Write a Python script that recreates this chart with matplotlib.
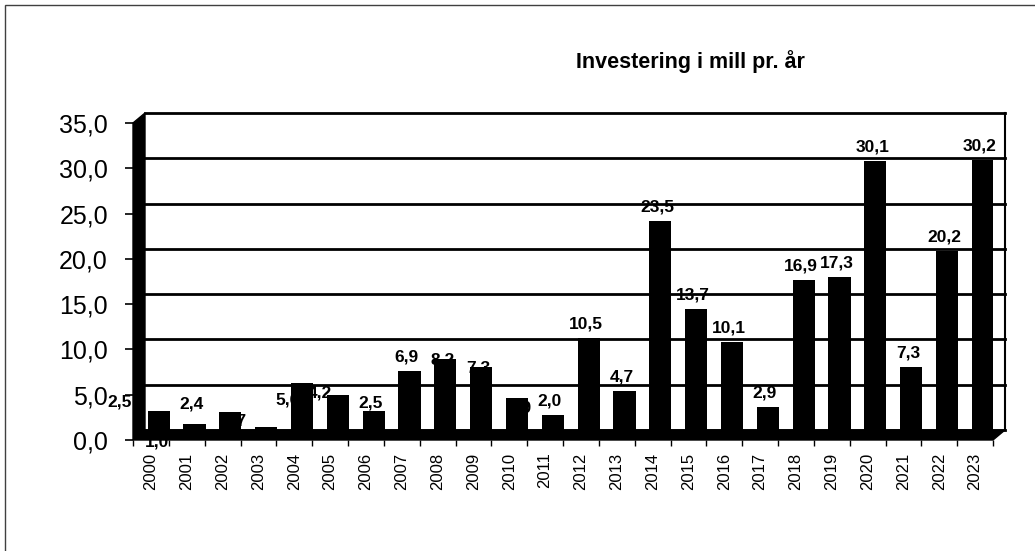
import matplotlib
matplotlib.use('Agg')
import matplotlib.pyplot as plt
from matplotlib.patches import Polygon, Rectangle

plt.rcParams['font.family'] = ['Liberation Sans', 'DejaVu Sans']

years = ['2000', '2001', '2002', '2003', '2004', '2005', '2006', '2007', '2008', '2009', '2010', '2011',
         '2012', '2013', '2014', '2015', '2016', '2017', '2018', '2019', '2020', '2021', '2022', '2023']
investment = [2.5, 1.0, 2.4, 0.7, 5.6, 4.2, 2.5, 6.9, 8.2, 7.3, 3.9, 2.0,
              10.5, 4.7, 23.5, 13.7, 10.1, 2.9, 16.9, 17.3, 30.1, 7.3, 20.2, 30.2]
title = 'Investering i mill pr. år'

# excel 3d labels land in odd places for the small bars (pixels: right, down)
label_nudge = [(-36, 5), (-35, 32), (-36, 6), (-29, 8), (-12, 31), (-15, 12), (0, 6), (0, 0),
               (0, 15), (0, 15), (6, 24)] + [(0, 0)] * 13

W, H = 1035, 551
fig = plt.figure(figsize=(W / 100, H / 100), dpi=100)
ax = fig.add_axes([133 / W, (H - 440) / H, (993 - 133) / W, (440 - 123) / H])
n = len(years)
ax.set_xlim(0, n)
ax.set_ylim(0, 35)
for s in ax.spines.values():
    s.set_visible(False)
ax.patch.set_visible(False)

# depth of the fake 3d box in data units
DX = 12 / ((993 - 133) / n)
DY = 10 / ((440 - 123) / 35)
f = 0.65

# back wall
for v in range(0, 40, 5):
    ax.plot([DX, n + DX], [v + DY, v + DY], color='black', lw=2, zorder=2, clip_on=False)
ax.plot([n + DX, n + DX], [DY, 35 + DY], color='black', lw=1.5, zorder=2, clip_on=False)

# side wall and floor
ax.add_patch(Polygon([(0, 0), (DX, DY), (DX, 35 + DY), (0, 35)], closed=True,
                     fc='black', ec='black', zorder=4, clip_on=False))
ax.add_patch(Polygon([(0, 0), (n, 0), (n + DX, DY), (DX, DY)], closed=True,
                     fc='black', ec='black', zorder=4, clip_on=False))

xs = [i + 0.5 + f * DX for i in range(n)]
ax.bar(xs, investment, width=0.62, bottom=f * DY, color='black', zorder=3)

for i, v in enumerate(investment):
    dx, dy = label_nudge[i]
    ax.annotate(f'{v:.1f}'.replace('.', ','), (xs[i], v + f * DY),
                xytext=(-3 + dx, 14 - dy), textcoords='offset pixels',
                ha='center', va='center', fontsize=12.5, fontweight='bold',
                zorder=1, annotation_clip=False)

ax.set_yticks(range(0, 40, 5))
ax.set_yticklabels([f'{v:.1f}'.replace('.', ',') for v in range(0, 40, 5)], fontsize=18)
ax.tick_params(axis='y', length=6, width=1.2, pad=12, color='black')

ax.set_xticks([i + 0.5 for i in range(n)])
ax.set_xticklabels(years, rotation=90, fontsize=12)
ax.set_xticks(range(n + 1), minor=True)
ax.tick_params(axis='x', which='major', length=0, pad=9)
ax.tick_params(axis='x', which='minor', length=4, width=1, color='black')

fig.text(690 / W, 1 - 62 / H, title, ha='center', va='center', fontsize=15.5, fontweight='bold')

fig.patches.append(Rectangle((5 / W, -0.1), 1.2, 1 - 5 / H + 0.1, transform=fig.transFigure,
                             fill=False, ec='#404040', lw=1))

fig.savefig('out.png', dpi=100)
